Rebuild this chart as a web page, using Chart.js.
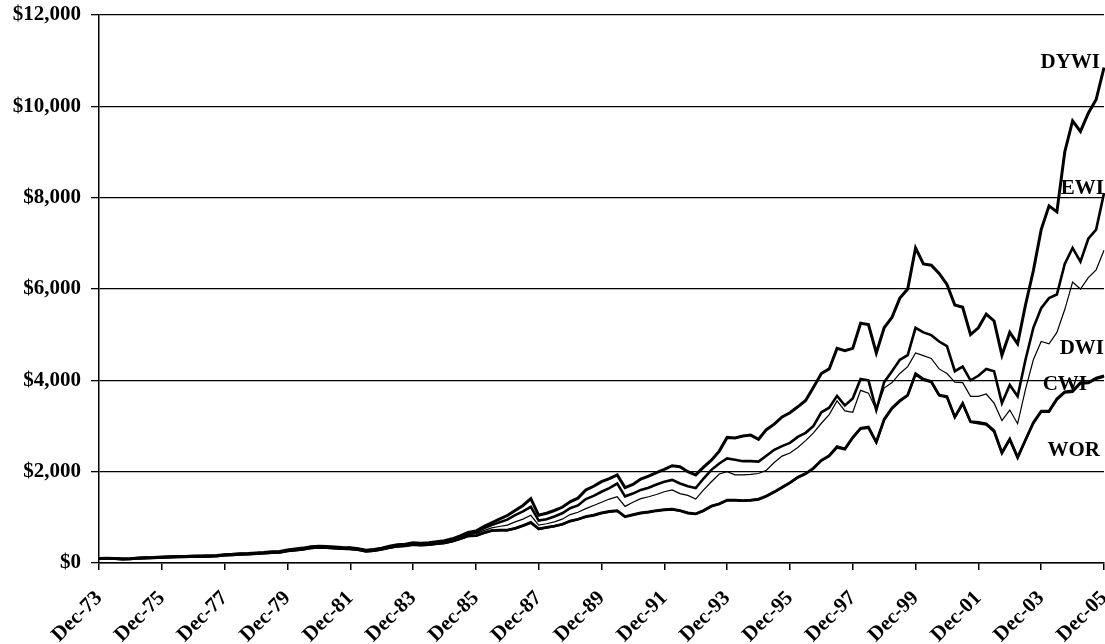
<!DOCTYPE html>
<html><head><meta charset="utf-8">
<script src="https://cdn.jsdelivr.net/npm/chart.js@4.4.1/dist/chart.umd.min.js"></script>
<style>html,body{margin:0;padding:0;background:#fff}#wrap{width:1105px;height:644px}</style>
</head><body><div id="wrap"><canvas id="c" width="1105" height="644"></canvas></div>
<script>
// Quarterly categories Dec-73 .. Dec-05
const quarterMonths = ["Mar","Jun","Sep","Dec"];
const categories = ["Dec-73"];
for (let y = 74; y <= 105; y++) { for (const m of quarterMonths) categories.push(m + "-" + String(y % 100).padStart(2, "0")); }

const tickLabels = ["Dec-73","Dec-75","Dec-77","Dec-79","Dec-81","Dec-83","Dec-85","Dec-87","Dec-89","Dec-91","Dec-93","Dec-95","Dec-97","Dec-99","Dec-01","Dec-03","Dec-05"];
const yTicks = [0, 2000, 4000, 6000, 8000, 10000, 12000];

const DYWI = [100,103,97,89,94,108,115,118, 129,136,140,143,151,154,157,162, 183,190,204,209,220,231,247,252, 284,305,326,357,368,362,351,340, 335,314,278,294,326,368,400,410, 442,432,443,465,486,530,594,668,
  700,800,880,960,1040,1150,1260,1410, 1045,1090,1150,1220,1340,1420,1600,1680, 1780,1850,1930,1650,1720,1840,1900,1980,
  2050,2130,2110,2000,1930,2100,2250,2450, 2750,2740,2780,2800,2710,2920,3040,3200, 3290,3420,3560,3850,4150,4250,4700,4650,
  4700,5250,5220,4600,5150,5380,5800,6000, 6900,6550,6520,6340,6100,5650,5600,5000, 5150,5450,5300,4550,5050,4800,5650,6400,
  7300,7820,7690,9000,9680,9450,9850,10150, 10850];
const EWI = [100,102,96,88,93,106,113,116, 127,134,137,140,148,151,153,158, 179,186,199,204,215,225,240,245, 276,296,317,348,358,352,342,332, 327,306,271,287,317,358,388,398, 430,420,430,452,472,514,575,645,
  670,760,830,890,950,1050,1130,1230, 930,960,1020,1090,1200,1260,1400,1470, 1560,1640,1740,1460,1520,1600,1650,1720,
  1780,1820,1740,1680,1640,1850,2040,2180, 2290,2260,2230,2230,2220,2350,2480,2560, 2630,2760,2850,3000,3300,3400,3660,3450,
  3600,4030,4000,3350,3960,4200,4450,4550, 5150,5050,4990,4850,4750,4200,4300,4000, 4100,4250,4200,3500,3900,3650,4450,5150,
  5580,5800,5880,6550,6900,6600,7100,7300, 8100];
const DWI = [100,102,96,88,92,105,112,115, 125,132,135,138,145,148,150,155, 175,182,195,200,210,220,235,240, 270,290,310,340,350,345,335,325, 320,300,265,280,310,350,380,390, 420,410,420,440,458,498,555,620,
  640,710,770,800,830,900,960,1045, 830,860,900,960,1060,1110,1190,1260, 1330,1400,1450,1240,1330,1410,1450,1500,
  1560,1600,1520,1480,1400,1600,1780,1950, 2000,1930,1930,1940,1960,2030,2200,2340, 2410,2530,2680,2850,3060,3250,3550,3330,
  3300,3780,3720,3350,3830,3950,4150,4300, 4600,4540,4480,4250,4150,3960,3950,3650, 3650,3700,3500,3120,3350,3050,3800,4450,
  4850,4800,5050,5550,6150,6000,6250,6420, 6850];
const CWI = [100,101,95,87,91,104,110,113, 123,129,132,135,141,144,146,151, 170,177,189,194,203,213,227,232, 261,280,299,328,338,333,323,313, 308,289,255,270,298,336,365,375, 402,392,401,420,437,474,528,590,
  600,660,710,720,720,760,820,890, 750,780,810,850,920,960,1020,1050, 1100,1130,1150,1020,1060,1100,1120,1150,
  1170,1180,1150,1100,1080,1150,1250,1300, 1380,1380,1370,1380,1400,1470,1560,1660, 1760,1880,1960,2080,2250,2350,2550,2500,
  2750,2950,2980,2650,3150,3400,3560,3680, 4150,4030,3980,3680,3650,3200,3500,3100, 3080,3050,2900,2420,2720,2320,2700,3080,
  3330,3330,3600,3750,3770,3950,3950,4050, 4100];
const WOR = [100,101,95,87,91,103,110,113, 122,129,131,134,141,143,145,150, 169,176,188,193,202,212,226,231, 260,279,298,327,337,332,322,312, 307,288,254,269,297,335,364,374, 401,391,400,419,436,473,527,588,
  595,655,705,715,715,755,815,880, 745,775,805,845,915,955,1010,1040, 1090,1120,1140,1010,1050,1090,1110,1140,
  1160,1170,1140,1090,1070,1140,1240,1290, 1370,1370,1360,1370,1390,1460,1550,1650, 1750,1870,1950,2070,2240,2340,2530,2490,
  2740,2940,2960,2640,3130,3380,3540,3670, 4130,4010,3960,3670,3630,3190,3480,3090, 3060,3030,2880,2400,2700,2300,2690,3060,
  3310,3310,3580,3730,3750,3930,3940,4030, 4080];

const seriesNames = ["DYWI","EWI","DWI","CWI","WOR"];
const seriesValues = [DYWI, EWI, DWI, CWI, WOR];
const labelLevels = [10950, 8200, 4700, 3900, 2470];

// styles
const lineWidths = [3, 2.6, 1.2, 2.6, 2.4];
const labelInsets = [4, 0, 0, 17, 4];
const SERIF = '"Liberation Serif", "Times New Roman", serif';

const seriesLabelPlugin = {
  id: 'seriesLabels',
  afterDatasetsDraw(chart) {
    const ctx = chart.ctx, area = chart.chartArea, ys = chart.scales.y;
    ctx.save();
    ctx.font = 'bold 21px ' + SERIF;
    ctx.fillStyle = '#000';
    ctx.textAlign = 'right';
    ctx.textBaseline = 'middle';
    seriesNames.forEach((n, i) => ctx.fillText(n, area.right - labelInsets[i], ys.getPixelForValue(labelLevels[i])));
    ctx.restore();
  }
};

new Chart(document.getElementById('c'), {
  type: 'line',
  data: {
    labels: categories,
    datasets: seriesNames.map((n, i) => ({
      label: n, data: seriesValues[i], borderColor: '#000', backgroundColor: '#000',
      borderWidth: lineWidths[i], pointRadius: 0, tension: 0, fill: false
    }))
  },
  options: {
    responsive: false, animation: false,
    layout: { padding: { top: 15, right: 1, left: 0, bottom: 0 } },
    plugins: { legend: { display: false }, tooltip: { enabled: false } },
    scales: {
      x: {
        type: 'category', offset: false,
        grid: { drawOnChartArea: false, drawTicks: true, tickLength: 7, color: '#000', lineWidth: 1.5 },
        border: { display: true, color: '#000', width: 1.5 },
        ticks: { autoSkip: false, maxRotation: 45, minRotation: 45, color: '#000', padding: 16,
          font: { family: SERIF, weight: 'bold', size: 21 } },
        afterBuildTicks: axis => { axis.ticks = axis.ticks.filter(t => tickLabels.includes(categories[t.value])); },
        afterFit: s => { s.height = 81; s.paddingLeft = 0; s.paddingRight = 0; }
      },
      y: {
        min: yTicks[0], max: yTicks[yTicks.length - 1],
        afterBuildTicks: axis => { axis.ticks = yTicks.map(v => ({ value: v })); },
        grid: { color: '#000', lineWidth: 1.3, tickLength: 8 },
        border: { display: true, color: '#000', width: 1.5 },
        ticks: { color: '#000', padding: 10, font: { family: SERIF, weight: 'bold', size: 21 },
          callback: v => '$' + Number(v).toLocaleString('en-US') },
        afterFit: s => { s.width = 99; s.paddingTop = 0; s.paddingBottom = 0; }
      }
    }
  },
  plugins: [seriesLabelPlugin]
});
</script></body></html>
